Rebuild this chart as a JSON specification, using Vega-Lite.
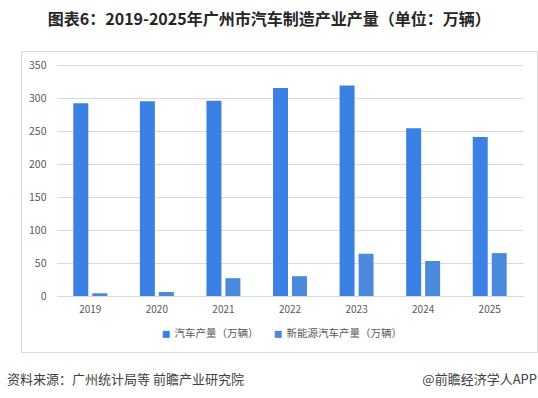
{
  "$schema": "https://vega.github.io/schema/vega-lite/v6.json",
  "padding": {"left": 7, "top": 11, "right": 0, "bottom": 0},
  "background": "white",
  "title": {
    "text": "图表6：2019-2025年广州市汽车制造产业产量（单位：万辆）",
    "anchor": "middle",
    "frame": "bounds",
    "fontSize": 16,
    "fontWeight": "bold",
    "font": "Noto Sans CJK SC",
    "color": "#262626",
    "offset": 23,
    "dx": -3
  },
  "config": {
    "font": "Noto Sans CJK SC",
    "concat": {"spacing": 17}
  },
  "vconcat": [
    {
      "width": 516,
      "height": 301,
      "view": {"stroke": "#d9d9d9", "strokeWidth": 1},
      "data": {
        "values": [
          {"year": "2019", "series": "汽车产量（万辆）", "value": 292},
          {"year": "2020", "series": "汽车产量（万辆）", "value": 295},
          {"year": "2021", "series": "汽车产量（万辆）", "value": 296},
          {"year": "2022", "series": "汽车产量（万辆）", "value": 315},
          {"year": "2023", "series": "汽车产量（万辆）", "value": 319},
          {"year": "2024", "series": "汽车产量（万辆）", "value": 254},
          {"year": "2025", "series": "汽车产量（万辆）", "value": 241},
          {"year": "2019", "series": "新能源汽车产量（万辆）", "value": 4},
          {"year": "2020", "series": "新能源汽车产量（万辆）", "value": 6},
          {"year": "2021", "series": "新能源汽车产量（万辆）", "value": 27},
          {"year": "2022", "series": "新能源汽车产量（万辆）", "value": 30},
          {"year": "2023", "series": "新能源汽车产量（万辆）", "value": 64},
          {"year": "2024", "series": "新能源汽车产量（万辆）", "value": 53},
          {"year": "2025", "series": "新能源汽车产量（万辆）", "value": 65}
        ]
      },
      "mark": {"type": "bar"},
      "encoding": {
        "x": {
          "field": "year",
          "type": "nominal",
          "scale": {"range": [36, 502], "paddingInner": 0.49, "paddingOuter": 0.245},
          "axis": {
            "title": null,
            "labelAngle": 0,
            "offset": -56,
            "ticks": false,
            "domain": true,
            "domainColor": "#d9d9d9",
            "labelFontSize": 10,
            "labelColor": "#595959",
            "labelPadding": 8,
            "grid": false
          }
        },
        "xOffset": {
          "field": "series",
          "type": "nominal",
          "sort": ["汽车产量（万辆）", "新能源汽车产量（万辆）"],
          "scale": {"paddingInner": 0.21, "paddingOuter": 0}
        },
        "y": {
          "field": "value",
          "type": "quantitative",
          "scale": {"domain": [0, 350], "range": [245, 14], "nice": false},
          "axis": {
            "title": null,
            "values": [0, 50, 100, 150, 200, 250, 300, 350],
            "offset": -36,
            "ticks": false,
            "domain": false,
            "grid": true,
            "gridColor": "#d9d9d9",
            "gridWidth": 1,
            "labelFontSize": 10.5,
            "labelColor": "#595959",
            "labelPadding": 11
          }
        },
        "color": {
          "field": "series",
          "type": "nominal",
          "sort": ["汽车产量（万辆）", "新能源汽车产量（万辆）"],
          "scale": {
            "domain": ["汽车产量（万辆）", "新能源汽车产量（万辆）"],
            "range": ["#3b80e3", "#4a89dc"]
          },
          "legend": {
            "title": null,
            "orient": "none",
            "direction": "horizontal",
            "legendX": 140,
            "legendY": 278,
            "symbolType": "square",
            "symbolSize": 49,
            "symbolStrokeWidth": 0,
            "labelFontSize": 10.5,
            "labelColor": "#595959",
            "labelOffset": 3,
            "columnPadding": 14
          }
        }
      }
    },
    {
      "width": 516,
      "height": 20,
      "view": {"stroke": null},
      "data": {
        "values": [
          {"pos": 0, "label": "资料来源：广州统计局等  前瞻产业研究院", "side": "left"},
          {"pos": 1, "label": "@前瞻经济学人APP", "side": "right"}
        ]
      },
      "layer": [
        {
          "transform": [{"filter": "datum.side == 'left'"}],
          "mark": {"type": "text", "align": "left", "baseline": "middle", "fontSize": 13, "color": "#404040"},
          "encoding": {
            "x": {"field": "pos", "type": "quantitative", "scale": {"domain": [0, 1], "range": [-14, 516]}, "axis": null},
            "text": {"field": "label"}
          }
        },
        {
          "transform": [{"filter": "datum.side == 'right'"}],
          "mark": {"type": "text", "align": "right", "baseline": "middle", "fontSize": 13, "color": "#404040"},
          "encoding": {
            "x": {"field": "pos", "type": "quantitative", "scale": {"domain": [0, 1], "range": [-14, 516]}, "axis": null},
            "text": {"field": "label"}
          }
        }
      ]
    }
  ]
}
